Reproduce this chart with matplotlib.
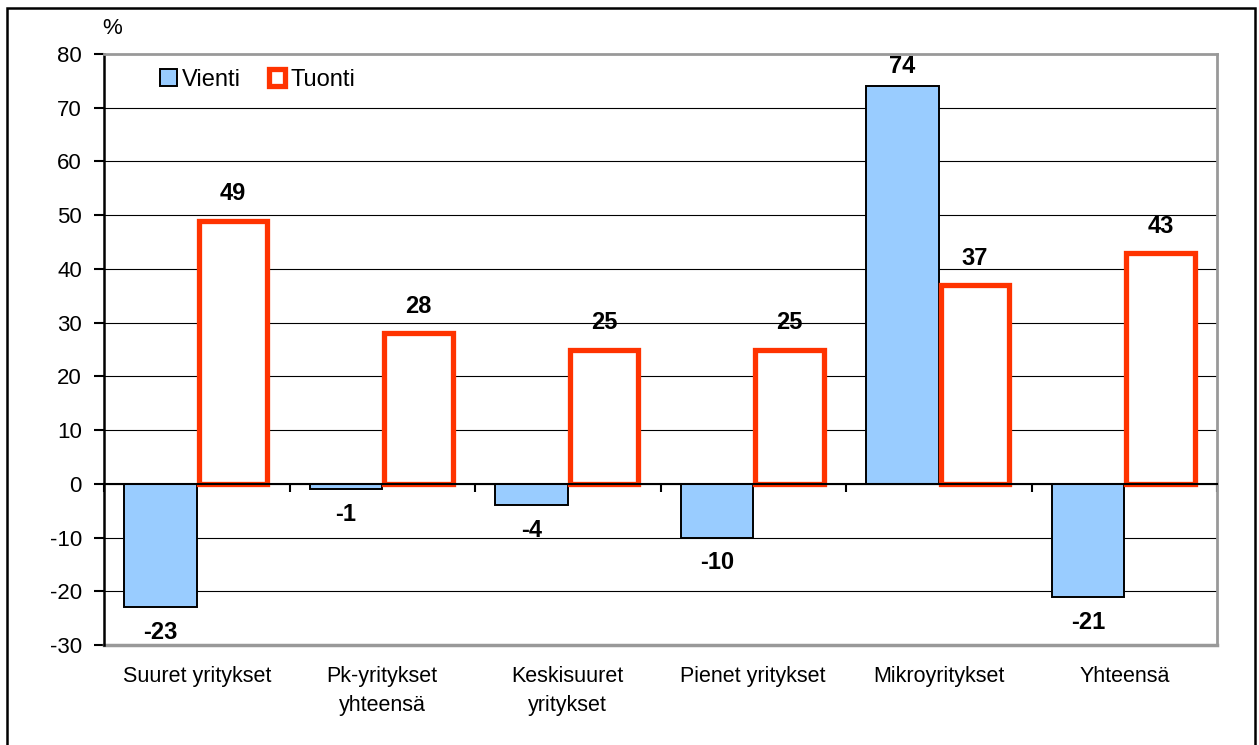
import matplotlib
matplotlib.use("Agg")
import matplotlib.pyplot as plt
import numpy as np
from matplotlib.patches import Rectangle

plt.rcParams['font.family'] = ['Liberation Sans', 'DejaVu Sans']
plt.rcParams['axes.unicode_minus'] = False

# data
categories = ["Suuret yritykset", "Pk-yritykset\nyhteensä", "Keskisuuret\nyritykset",
              "Pienet yritykset", "Mikroyritykset", "Yhteensä"]
vienti = [-23, -1, -4, -10, 74, -21]
tuonti = [49, 28, 25, 25, 37, 43]

blue = "#99CCFF"
red = "#FF3300"

fig = plt.figure(figsize=(12.59, 7.45), dpi=100)
ax = fig.add_axes([104/1259, 1-645/745, (1217-104)/1259, (645-54)/745])

x = np.arange(len(categories))
w = 0.39
b1 = ax.bar(x - w/2, vienti, w, color=blue, edgecolor="black", linewidth=1.4, zorder=3, label="Vienti")
b2 = ax.bar(x + w/2, tuonti, w - 0.02, color="white", edgecolor=red, linewidth=3.8, zorder=3, label="Tuonti")

for xi, v in zip(x - w/2, vienti):
    if v < 0:
        ax.annotate(str(v), (xi, v), xytext=(0, -10), textcoords="offset points",
                    ha="center", va="top", fontsize=17, fontweight="bold")
    else:
        ax.annotate(str(v), (xi, v), xytext=(0, 6), textcoords="offset points",
                    ha="center", va="bottom", fontsize=17, fontweight="bold")
for xi, v in zip(x + w/2, tuonti):
    ax.annotate(str(v), (xi, v), xytext=(0, 11), textcoords="offset points",
                ha="center", va="bottom", fontsize=17, fontweight="bold")

ax.set_xlim(-0.5, len(categories) - 0.5)
ax.set_ylim(-30, 80)
ax.set_yticks(range(-30, 81, 10))
ax.tick_params(axis="y", direction="out", length=7, width=1.5, labelsize=16, pad=9)

# horizontal grid
for yv in range(-20, 80, 10):
    ax.axhline(yv, color="black", linewidth=0.8, zorder=1)

# spines
ax.spines["bottom"].set_position(("data", 0))
ax.spines["bottom"].set_linewidth(1.5)
ax.spines["bottom"].set_zorder(4)
ax.spines["left"].set_linewidth(1.8)
for s in ["top", "right"]:
    ax.spines[s].set_color("#999999")
    ax.spines[s].set_linewidth(2)
ax.axhline(-30, color="#999999", linewidth=2.5, zorder=2, clip_on=False)

ax.set_xticks(np.arange(-0.5, len(categories), 1))
ax.set_xticklabels([])
ax.tick_params(axis="x", direction="out", length=6, width=1.5)

for xi, lab in zip(x, categories):
    ax.text(xi, -0.035, lab, transform=ax.get_xaxis_transform(), ha="center", va="top",
            fontsize=15.5, linespacing=1.5)

fig.text(112/1259, 1-29/745, "%", ha="center", va="center", fontsize=16)

leg = ax.legend(loc="center left", bbox_to_anchor=(139/1259, 1-80/745),
                bbox_transform=fig.transFigure, ncol=2, frameon=False, fontsize=17,
                handlelength=0.7, handleheight=0.7, handletextpad=0.2, columnspacing=1.2)

fig.patches.append(Rectangle((7/1259, -0.02), (1255-7)/1259, 1.02 - 8/745,
                             transform=fig.transFigure, fill=False, edgecolor="black",
                             linewidth=1.8))

fig.savefig("out.png", dpi=100)
